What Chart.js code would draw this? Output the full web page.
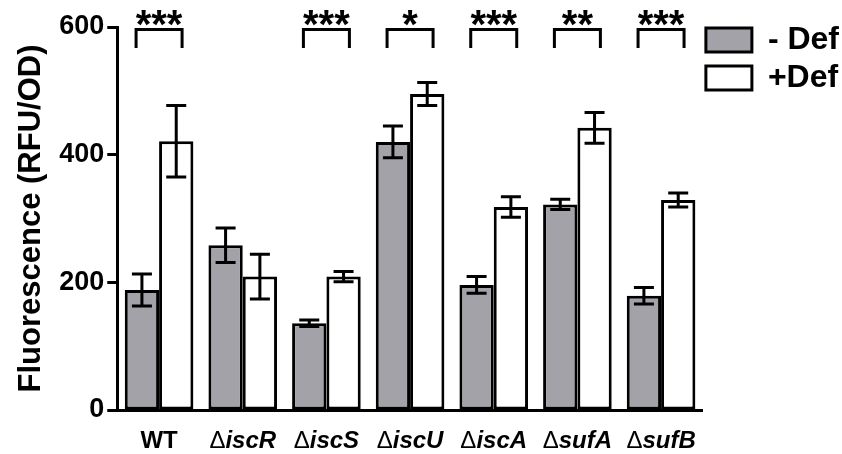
<!DOCTYPE html>
<html>
<head>
<meta charset="utf-8">
<script src="https://cdn.jsdelivr.net/npm/chart.js@4.4.1/dist/chart.umd.min.js"></script>
<style>
  html, body { margin: 0; padding: 0; background: #fff; }
  #wrap { width: 842px; height: 454px; }
</style>
</head>
<body>
<div id="wrap"><canvas id="chart"></canvas></div>
<script>
// strains on the x axis (prefix drawn upright, gene name italic)
const strainPrefix = ['', '\u0394', '\u0394', '\u0394', '\u0394', '\u0394', '\u0394'];
const strainNames = ['WT', 'iscR', 'iscS', 'iscU', 'iscA', 'sufA', 'sufB'];

// fluorescence values
const minusDef = [188, 258, 136, 420, 196, 322, 179];
const minusDefErr = [25, 27, 5, 25, 13, 8, 13];
const plusDef = [421, 209, 209, 495, 318, 442, 329];
const plusDefErr = [56, 35, 8, 18, 16, 24, 11];

// significance marks over each pair
const stars = ['***', '', '***', '*', '***', '**', '***'];
const bracketTop = 596;
const bracketLeg = 567;

const yTicks = [0, 200, 400, 600];

const FONT = "'Liberation Sans', Arial, Helvetica, sans-serif";

// error bars + significance brackets + custom x labels
const extrasPlugin = {
    id: 'extras',
    afterLayout(chart) {
        // legend sits a bit higher and further left than chart.js puts it
        chart.legend.top -= 9;
        chart.legend.bottom -= 9;
        chart.legend.left -= 3;
        chart.legend.right -= 3;
    },
    afterDatasetsDraw(chart) {
        const ctx = chart.ctx;
        const y = chart.scales.y;
        const errs = [minusDefErr, plusDefErr];
        ctx.save();
        ctx.strokeStyle = '#000';
        ctx.lineWidth = 3;
        chart.data.datasets.forEach((ds, di) => {
            const meta = chart.getDatasetMeta(di);
            meta.data.forEach((bar, i) => {
                const v = ds.data[i];
                const hi = y.getPixelForValue(v + errs[di][i]);
                const lo = y.getPixelForValue(v - errs[di][i]);
                ctx.beginPath();
                ctx.moveTo(bar.x, hi); ctx.lineTo(bar.x, lo);
                ctx.moveTo(bar.x - 10, hi); ctx.lineTo(bar.x + 10, hi);
                ctx.moveTo(bar.x - 10, lo); ctx.lineTo(bar.x + 10, lo);
                ctx.stroke();
            });
        });
        ctx.restore();
    },
    afterDraw(chart) {
        const ctx = chart.ctx;
        const x = chart.scales.x;
        const y = chart.scales.y;
        ctx.save();
        // brackets
        ctx.strokeStyle = '#000';
        ctx.lineWidth = 3;
        ctx.fillStyle = '#000';
        stars.forEach((s, i) => {
            if (!s) return;
            const cx = x.getPixelForValue(i);
            const t = y.getPixelForValue(bracketTop);
            const b = y.getPixelForValue(bracketLeg);
            ctx.beginPath();
            ctx.moveTo(cx - 23, b); ctx.lineTo(cx - 23, t);
            ctx.lineTo(cx + 23, t); ctx.lineTo(cx + 23, b);
            ctx.stroke();
            ctx.font = 'bold 40px ' + FONT;
            ctx.textAlign = 'center';
            ctx.textBaseline = 'alphabetic';
            ctx.fillText(s, cx, t + 8);
        });
        // x labels
        ctx.textBaseline = 'alphabetic';
        ctx.textAlign = 'left';
        const base = chart.chartArea.bottom + 38;
        const fDelta = '24px ' + FONT;
        strainNames.forEach((name, i) => {
            const cx = x.getPixelForValue(i);
            const fName = (strainPrefix[i] ? 'italic ' : '') + 'bold 24px ' + FONT;
            ctx.font = fDelta;
            const w1 = ctx.measureText(strainPrefix[i]).width;
            ctx.font = fName;
            const w2 = ctx.measureText(name).width;
            const sx = cx - (w1 + w2) / 2;
            ctx.font = fDelta;
            ctx.fillText(strainPrefix[i], sx, base);
            ctx.font = fName;
            ctx.fillText(name, sx + w1, base);
        });
        ctx.restore();
    }
};

const chart = new Chart(document.getElementById('chart'), {
    type: 'bar',
    data: {
        labels: strainNames,
        datasets: [
            {
                label: '- Def',
                data: minusDef,
                backgroundColor: '#a3a2a8',
                borderColor: '#000',
                borderWidth: 3,
                borderSkipped: false
            },
            {
                label: '+Def',
                data: plusDef,
                backgroundColor: '#fff',
                borderColor: '#000',
                borderWidth: 3,
                borderSkipped: false
            }
        ]
    },
    options: {
        responsive: true,
        maintainAspectRatio: false,
        animation: false,
        devicePixelRatio: 1,
        layout: { padding: { left: 13, top: 27, right: -10, bottom: 0 } },
        datasets: { bar: { categoryPercentage: 0.82, barPercentage: 1.0 } },
        plugins: {
            tooltip: { enabled: false },
            legend: {
                position: 'right',
                align: 'start',
                labels: {
                    boxWidth: 46,
                    boxHeight: 24,
                    padding: 6,
                    color: '#000',
                    font: { family: FONT, size: 32, weight: 'bold' }
                }
            }
        },
        scales: {
            x: {
                grid: { display: false },
                border: { display: true, color: '#000', width: 3 },
                ticks: { display: false },
                afterFit(scale) { scale.height = 44; }
            },
            y: {
                min: 0,
                max: 600,
                afterBuildTicks(scale) { scale.ticks = yTicks.map(v => ({ value: v })); },
                grid: { display: true, drawOnChartArea: false, drawTicks: true, tickLength: 10, tickWidth: 3, color: '#000' },
                border: { display: true, color: '#000', width: 3 },
                ticks: {
                    color: '#000',
                    padding: 3,
                    font: { family: FONT, size: 27, weight: 'bold' }
                },
                title: {
                    display: true,
                    text: 'Fluorescence (RFU/OD)',
                    color: '#000',
                    padding: { top: 0, bottom: 6 },
                    font: { family: FONT, size: 31, weight: 'bold' }
                }
            }
        }
    },
    plugins: [extrasPlugin]
});
</script>
</body>
</html>
